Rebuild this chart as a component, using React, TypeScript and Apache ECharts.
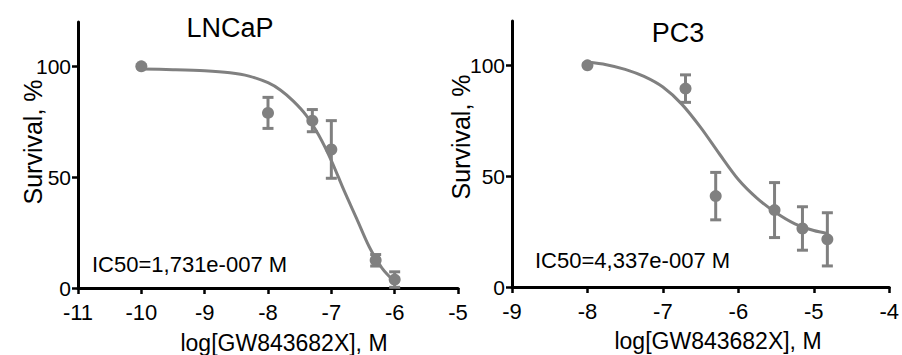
import React, { useEffect, useRef } from "react";
import * as echarts from "echarts";

// LNCaP data
const lncapX = [-10, -8, -7.3, -7, -6.3, -6];
const lncapMean = [100, 79, 75.5, 62.5, 12.5, 3.8];
const lncapErr = [0, 7, 5, 13, 2.6, 3.5];
const lncapCurveX = [-10, -9.5, -9, -8.6, -8.3, -8, -7.8, -7.6, -7.4, -7.2, -7.0, -6.8, -6.6, -6.4, -6.2, -6.0];
const lncapCurveY = [98.8, 98.5, 98.0, 97.1, 95.6, 92.6, 89.2, 84.3, 78, 69, 57.5, 44, 31.3, 18.5, 9, 2.8];

// PC3 data
const pc3X = [-8, -6.7, -6.3, -5.52, -5.15, -4.82];
const pc3Mean = [100, 89.5, 41, 34.7, 26.4, 21.5];
const pc3Err = [0, 6.2, 10.7, 12.4, 9.8, 12];
const pc3CurveX = [-8, -7.75, -7.5, -7.25, -7, -6.75, -6.5, -6.25, -6, -5.75, -5.5, -5.25, -5, -4.82];
const pc3CurveY = [101.5, 100.3, 98.2, 95, 90.2, 82.5, 72, 60, 48.5, 40, 33.5, 28.5, 25.5, 24.2];

const yTicks = [0, 50, 100];
const titles = ["LNCaP", "PC3"];
const ic50Texts = ["IC50=1,731e-007 M", "IC50=4,337e-007 M"];
const xTitle = "log[GW843682X], M";
const yTitle = "Survival, %";

const GRAY = "#808080";
const FONT = "'Liberation Sans', Arial, Helvetica, sans-serif";

function errData(xs: number[], m: number[], e: number[]) {
  const out: number[][] = [];
  xs.forEach((x, i) => {
    if (e[i] > 0) out.push([x, m[i] - e[i], m[i] + e[i]]);
  });
  return out;
}

function renderErr(params: any, api: any) {
  const x = api.value(0);
  const lo = api.value(1);
  const hi = api.value(2);
  const top = api.coord([x, hi]);
  const bot = api.coord([x, lo]);
  const hw = 5.5;
  const st = { stroke: GRAY, lineWidth: 3 };
  return {
    type: "group",
    children: [
      { type: "line", shape: { x1: top[0], y1: top[1], x2: bot[0], y2: bot[1] }, style: st },
      { type: "line", shape: { x1: top[0] - hw, y1: top[1], x2: top[0] + hw, y2: top[1] }, style: st },
      { type: "line", shape: { x1: bot[0] - hw, y1: bot[1], x2: bot[0] + hw, y2: bot[1] }, style: st },
    ],
  };
}

function xAxis(gridIndex: number, min: number, max: number) {
  return {
    type: "value",
    gridIndex,
    min,
    max,
    interval: 1,
    splitLine: { show: false },
    axisLine: { show: true, onZero: false, lineStyle: { color: "#000", width: 3 } },
    axisTick: { show: true, length: 6, lineStyle: { color: "#000", width: 2.5 } },
    axisLabel: { color: "#000", fontSize: 22, fontFamily: FONT, margin: 13 },
  };
}

function yAxis(gridIndex: number) {
  return {
    type: "value",
    gridIndex,
    min: 0,
    max: 120,
    splitLine: { show: false },
    axisLine: { show: true, onZero: false, lineStyle: { color: "#000", width: 3 } },
    axisTick: { show: true, length: 6, customValues: yTicks, lineStyle: { color: "#000", width: 2.5 } },
    axisLabel: { color: "#000", fontSize: 21, fontFamily: FONT, margin: 7, customValues: yTicks },
  };
}

function txt(text: string, x: number, y: number, fontSize: number, align = "center", rotation = 0) {
  return {
    type: "text",
    x,
    y,
    rotation,
    style: { text, fontSize, fontFamily: FONT, fill: "#000", align, verticalAlign: "middle" },
  };
}

export default function App() {
  const ref = useRef<HTMLDivElement>(null);
  useEffect(() => {
    if (!ref.current) return;
    const chart = echarts.init(ref.current, undefined, { renderer: "svg" });
    const option = {
      animation: false,
      backgroundColor: "#fff",
      grid: [
        { left: 78, right: 444, top: 22, bottom: 67 },
        { left: 512, right: 10, top: 21, bottom: 68 },
      ],
      xAxis: [xAxis(0, -11, -5), xAxis(1, -9, -4)],
      yAxis: [yAxis(0), yAxis(1)],
      series: [
        {
          type: "line",
          xAxisIndex: 0,
          yAxisIndex: 0,
          data: lncapCurveX.map((x, i) => [x, lncapCurveY[i]]),
          smooth: 0.3,
          showSymbol: false,
          lineStyle: { color: GRAY, width: 3 },
        },
        {
          type: "custom",
          xAxisIndex: 0,
          yAxisIndex: 0,
          data: errData(lncapX, lncapMean, lncapErr),
          encode: { x: 0, y: [1, 2] },
          renderItem: renderErr,
        },
        {
          type: "scatter",
          xAxisIndex: 0,
          yAxisIndex: 0,
          data: lncapX.map((x, i) => [x, lncapMean[i]]),
          symbolSize: 12,
          itemStyle: { color: GRAY, opacity: 1 },
        },
        {
          type: "line",
          xAxisIndex: 1,
          yAxisIndex: 1,
          data: pc3CurveX.map((x, i) => [x, pc3CurveY[i]]),
          smooth: 0.3,
          showSymbol: false,
          lineStyle: { color: GRAY, width: 3 },
        },
        {
          type: "custom",
          xAxisIndex: 1,
          yAxisIndex: 1,
          data: errData(pc3X, pc3Mean, pc3Err),
          encode: { x: 0, y: [1, 2] },
          renderItem: renderErr,
        },
        {
          type: "scatter",
          xAxisIndex: 1,
          yAxisIndex: 1,
          data: pc3X.map((x, i) => [x, pc3Mean[i]]),
          symbolSize: 12,
          itemStyle: { color: GRAY, opacity: 1 },
        },
      ],
      graphic: [
        txt(titles[0], 230, 28, 27),
        txt(titles[1], 678, 33, 27),
        txt(yTitle, 32.5, 142, 25, "center", Math.PI / 2),
        txt(yTitle, 461, 137, 25, "center", Math.PI / 2),
        txt(xTitle, 284, 343, 23),
        txt(xTitle, 718, 341, 23),
        txt(ic50Texts[0], 92, 264, 22, "left"),
        txt(ic50Texts[1], 535, 260, 22, "left"),
      ],
    };
    chart.setOption(option as any);
    return () => chart.dispose();
  }, []);
  return (
    <div
      ref={ref}
      style={{ position: "absolute", left: 0, top: 0, width: 902, height: 355 }}
    />
  );
}
